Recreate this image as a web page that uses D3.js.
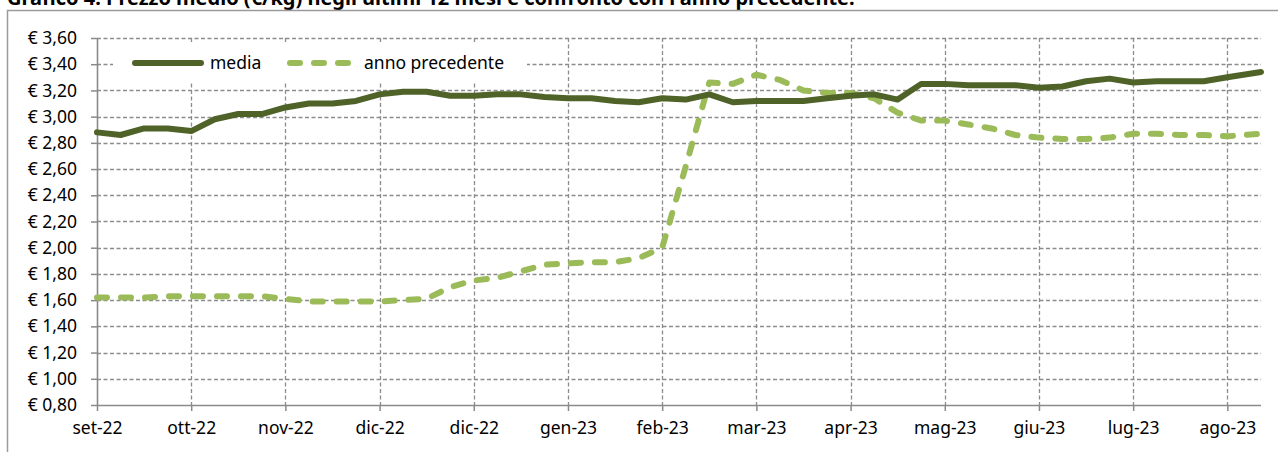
<!DOCTYPE html>
<html>
<head>
<meta charset="utf-8">
<script src="https://cdn.jsdelivr.net/npm/d3@7/dist/d3.min.js"></script>
<style>
  html, body { margin: 0; padding: 0; background: #ffffff; }
  svg { display: block; }
  text { font-family: "Noto Sans", "Open Sans", sans-serif; }
</style>
</head>
<body>
<svg id="chart" width="1278" height="452"></svg>
<script>
// ---- DATA ----
const title = "Grafico 4. Prezzo medio (€/kg) negli ultimi 12 mesi e confronto con l'anno precedente.";
const dates = [
  "2022-09-08","2022-09-15","2022-09-22","2022-09-29","2022-10-06","2022-10-13","2022-10-20","2022-10-27",
  "2022-11-03","2022-11-10","2022-11-17","2022-11-24","2022-12-01","2022-12-08","2022-12-15","2022-12-22",
  "2022-12-29","2023-01-05","2023-01-12","2023-01-19","2023-01-26","2023-02-02","2023-02-09","2023-02-16",
  "2023-02-23","2023-03-02","2023-03-09","2023-03-16","2023-03-23","2023-03-30","2023-04-06","2023-04-13",
  "2023-04-20","2023-04-27","2023-05-04","2023-05-11","2023-05-18","2023-05-25","2023-06-01","2023-06-08",
  "2023-06-15","2023-06-22","2023-06-29","2023-07-06","2023-07-13","2023-07-20","2023-07-27","2023-08-03",
  "2023-08-10","2023-08-20"
];
const media = [
  2.88,2.86,2.91,2.91,2.89,2.98,3.02,3.02,
  3.07,3.10,3.10,3.12,3.17,3.19,3.19,3.16,
  3.16,3.17,3.17,3.15,3.14,3.14,3.12,3.11,
  3.14,3.13,3.17,3.11,3.12,3.12,3.12,3.14,
  3.16,3.17,3.13,3.25,3.25,3.24,3.24,3.24,
  3.22,3.23,3.27,3.29,3.26,3.27,3.27,3.27,
  3.30,3.34
];
const annoPrecedente = [
  1.62,1.62,1.62,1.63,1.63,1.63,1.63,1.63,
  1.61,1.59,1.59,1.59,1.59,1.60,1.61,1.70,
  1.75,1.77,1.82,1.87,1.88,1.89,1.89,1.92,
  2.00,2.62,3.26,3.25,3.32,3.28,3.20,3.18,
  3.18,3.14,3.03,2.97,2.97,2.94,2.91,2.86,
  2.84,2.83,2.83,2.84,2.87,2.87,2.86,2.86,
  2.85,2.87
];
const xTickLabels = ["set-22","ott-22","nov-22","dic-22","dic-22","gen-23","feb-23","mar-23","apr-23","mag-23","giu-23","lug-23","ago-23"];
const xTickEvery = 4;
const yTicks = [0.8,1.0,1.2,1.4,1.6,1.8,2.0,2.2,2.4,2.6,2.8,3.0,3.2,3.4,3.6];
const seriesNames = ["media","anno precedente"];

// ---- CHART ----
const svg = d3.select("#chart");
const parse = d3.timeParse("%Y-%m-%d");
const dts = dates.map(parse);

const pL = 97, pR = 1261, pT = 38, pB = 405;
const x = d3.scaleTime().domain([dts[0], dts[dts.length - 1]]).range([pL, pR]);
const y = d3.scaleLinear().domain([0.8, 3.6]).range([pB, pT]);

const it = d3.formatLocale({decimal: ",", thousands: ".", grouping: [3], currency: ["€ ", ""]});
const fmt = v => "€ " + it.format(".2f")(v);

const gridColor = "#8c8c8c";
const axisColor = "#8a8a8a";

// title (cut off at top, as in the source image)
svg.append("text").attr("x", 7).attr("y", 5)
  .attr("font-family", "'Liberation Sans', Arial, sans-serif")
  .attr("font-weight", "bold").attr("font-size", 20).attr("fill", "#000")
  .text(title);

// outer frame
svg.append("path").attr("d", "M7.5,452 V10.5 H1278")
  .attr("fill", "none").attr("stroke", "#9a9a9a").attr("stroke-width", 1.5);

// horizontal gridlines
svg.append("g").selectAll("line").data(yTicks.filter(v => v > 0.8)).join("line")
  .attr("x1", pL).attr("x2", pR)
  .attr("y1", d => Math.round(y(d)) + 0.5).attr("y2", d => Math.round(y(d)) + 0.5)
  .attr("stroke", gridColor).attr("stroke-width", 1.3).attr("stroke-dasharray", "4,2.5");

const tickDates = xTickLabels.map((l, i) => dts[i * xTickEvery]);

// vertical gridlines
svg.append("g").selectAll("line").data(tickDates.slice(1)).join("line")
  .attr("x1", d => Math.round(x(d)) + 0.5).attr("x2", d => Math.round(x(d)) + 0.5)
  .attr("y1", pT).attr("y2", pB)
  .attr("stroke", gridColor).attr("stroke-width", 1.3).attr("stroke-dasharray", "4,2.5");

// y axis
const yAxis = d3.axisLeft(y).tickValues(yTicks).tickFormat(fmt).tickSize(6).tickPadding(14);
const gy = svg.append("g").attr("transform", `translate(${pL},0)`).call(yAxis);
gy.select(".domain").attr("stroke", axisColor).attr("stroke-width", 1.6).attr("d", `M0.5,${pT}V${pB}`);
gy.selectAll(".tick line").attr("stroke", axisColor).attr("stroke-width", 1.5);
gy.selectAll(".tick text").attr("font-size", 17.5).attr("fill", "#000")
  .attr("font-family", "'Noto Sans', sans-serif");

// x axis
const xAxis = d3.axisBottom(x).tickValues(tickDates)
  .tickFormat((d, i) => xTickLabels[i]).tickSize(6).tickPadding(11);
const gx = svg.append("g").attr("transform", `translate(0,${pB})`).call(xAxis);
gx.select(".domain").attr("stroke", axisColor).attr("stroke-width", 1.6).attr("d", `M${pL},0.5H${pR}`);
gx.selectAll(".tick line").attr("stroke", axisColor).attr("stroke-width", 1.5);
gx.selectAll(".tick text").attr("font-size", 17.5).attr("fill", "#000")
  .attr("font-family", "'Noto Sans', sans-serif");

// lines
const line = d3.line().x((d, i) => x(dts[i])).y(d => y(d));
svg.append("path").datum(annoPrecedente).attr("d", line)
  .attr("fill", "none").attr("stroke", "#9bbb59").attr("stroke-width", 6)
  .attr("stroke-dasharray", "10,14").attr("stroke-linecap", "round").attr("stroke-linejoin", "round");
svg.append("path").datum(media).attr("d", line)
  .attr("fill", "none").attr("stroke", "#4f6228").attr("stroke-width", 6)
  .attr("stroke-linecap", "round").attr("stroke-linejoin", "round");

// legend
const lg = svg.append("g");
lg.append("rect").attr("x", 113).attr("y", 43).attr("width", 414).attr("height", 38).attr("fill", "#fff");
lg.append("line").attr("x1", 135).attr("x2", 201).attr("y1", 63).attr("y2", 63)
  .attr("stroke", "#4f6228").attr("stroke-width", 6).attr("stroke-linecap", "round");
lg.append("text").attr("x", 210).attr("y", 63).attr("dy", "0.35em")
  .attr("font-size", 17.5).attr("fill", "#000").text(seriesNames[0]);
lg.append("line").attr("x1", 290).attr("x2", 350).attr("y1", 63).attr("y2", 63)
  .attr("stroke", "#9bbb59").attr("stroke-width", 6).attr("stroke-linecap", "round")
  .attr("stroke-dasharray", "10,14");
lg.append("text").attr("x", 364).attr("y", 63).attr("dy", "0.35em")
  .attr("font-size", 17.5).attr("fill", "#000").text(seriesNames[1]);
</script>
</body>
</html>
